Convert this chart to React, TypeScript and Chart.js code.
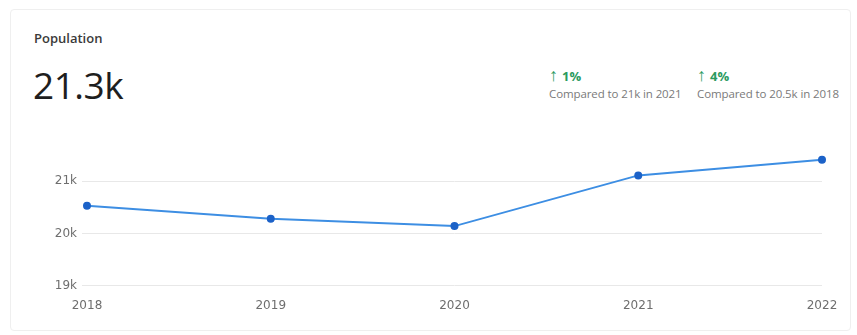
import React, { useEffect, useRef } from "react";
import { Chart, registerables } from "chart.js";

Chart.register(...registerables);

const years = ["2018", "2019", "2020", "2021", "2022"];
const population = [20530, 20280, 20140, 21110, 21410];
const yTicks = [19000, 20000, 21000];
const yTickLabels = ["19k", "20k", "21k"];

const headline = "21.3k";
const title = "Population";
const changes = [
  { pct: "1%", text: "Compared to 21k in 2021" },
  { pct: "4%", text: "Compared to 20.5k in 2018" },
];

export default function App() {
  const ref = useRef<HTMLCanvasElement | null>(null);

  useEffect(() => {
    if (!ref.current) return;
    const chart = new Chart(ref.current, {
      type: "line",
      data: {
        labels: years,
        datasets: [
          {
            data: population,
            borderColor: "#3d8ee3",
            borderWidth: 2,
            pointBackgroundColor: "#1c62c8",
            pointBorderColor: "#1c62c8",
            pointRadius: 3,
            tension: 0,
          },
        ],
      },
      options: {
        animation: false,
        responsive: false,
        maintainAspectRatio: false,
        layout: { padding: { left: 0, right: 35, top: 15, bottom: 0 } },
        plugins: { legend: { display: false }, tooltip: { enabled: false } },
        scales: {
          x: {
            grid: { display: false },
            border: { display: false },
            ticks: {
              color: "#6e6e6e",
              font: { family: "'DejaVu Sans'", size: 12 },
              padding: 5,
              maxRotation: 0,
            },
            afterFit: (s: any) => {
              s.height = 49.3;
            },
          },
          y: {
            min: 19000,
            max: 21500,
            border: { display: false },
            grid: { color: "#e8e8e8", tickLength: 5, drawTicks: true },
            afterBuildTicks: (s: any) => {
              s.ticks = yTicks.map((v) => ({ value: v }));
            },
            afterFit: (s: any) => {
              s.width = 87;
            },
            ticks: {
              color: "#6e6e6e",
              font: { family: "'DejaVu Sans'", size: 12 },
              padding: 5,
              callback: (v: any) => {
                const i = yTicks.indexOf(Number(v));
                return i >= 0 ? yTickLabels[i] : "";
              },
            },
          },
        },
      },
    });
    return () => chart.destroy();
  }, []);

  const sans = "'Open Sans', 'Liberation Sans', sans-serif";

  return (
    <div style={{ position: "absolute", left: 0, top: 0, width: 857, height: 335, background: "#fff", overflow: "hidden" }}>
      <div
        style={{
          position: "absolute",
          left: 10,
          top: 9,
          width: 841,
          height: 322,
          border: "1px solid #efefef",
          borderRadius: 4,
          boxSizing: "border-box",
        }}
      />
      <div style={{ position: "absolute", left: 34, top: 32, fontFamily: sans, fontSize: 13, fontWeight: 600, lineHeight: "13px", color: "#3a3a3a" }}>
        {title}
      </div>
      <div style={{ position: "absolute", left: 33, top: 66, fontFamily: sans, fontSize: 37, fontWeight: 500, lineHeight: "37px", color: "#1e1e1e", letterSpacing: -0.5 }}>
        {headline}
      </div>
      {changes.map((c, i) => (
        <div key={i} style={{ position: "absolute", left: i === 0 ? 549 : 697, top: 65, fontFamily: sans }}>
          <div style={{ fontSize: 13, lineHeight: "18px", fontWeight: 700, color: "#2b9a5e" }}>
            <span style={{ fontWeight: 300, fontSize: 18, marginRight: 4 }}>↑</span>
            {c.pct}
          </div>
          <div style={{ fontSize: 11.5, lineHeight: "14px", color: "#7a7a7a", marginTop: 2, whiteSpace: "nowrap", letterSpacing: -0.1 }}>{c.text}</div>
        </div>
      ))}
      <canvas ref={ref} width={857} height={195} style={{ position: "absolute", left: 0, top: 140, width: 857, height: 195 }} />
    </div>
  );
}
